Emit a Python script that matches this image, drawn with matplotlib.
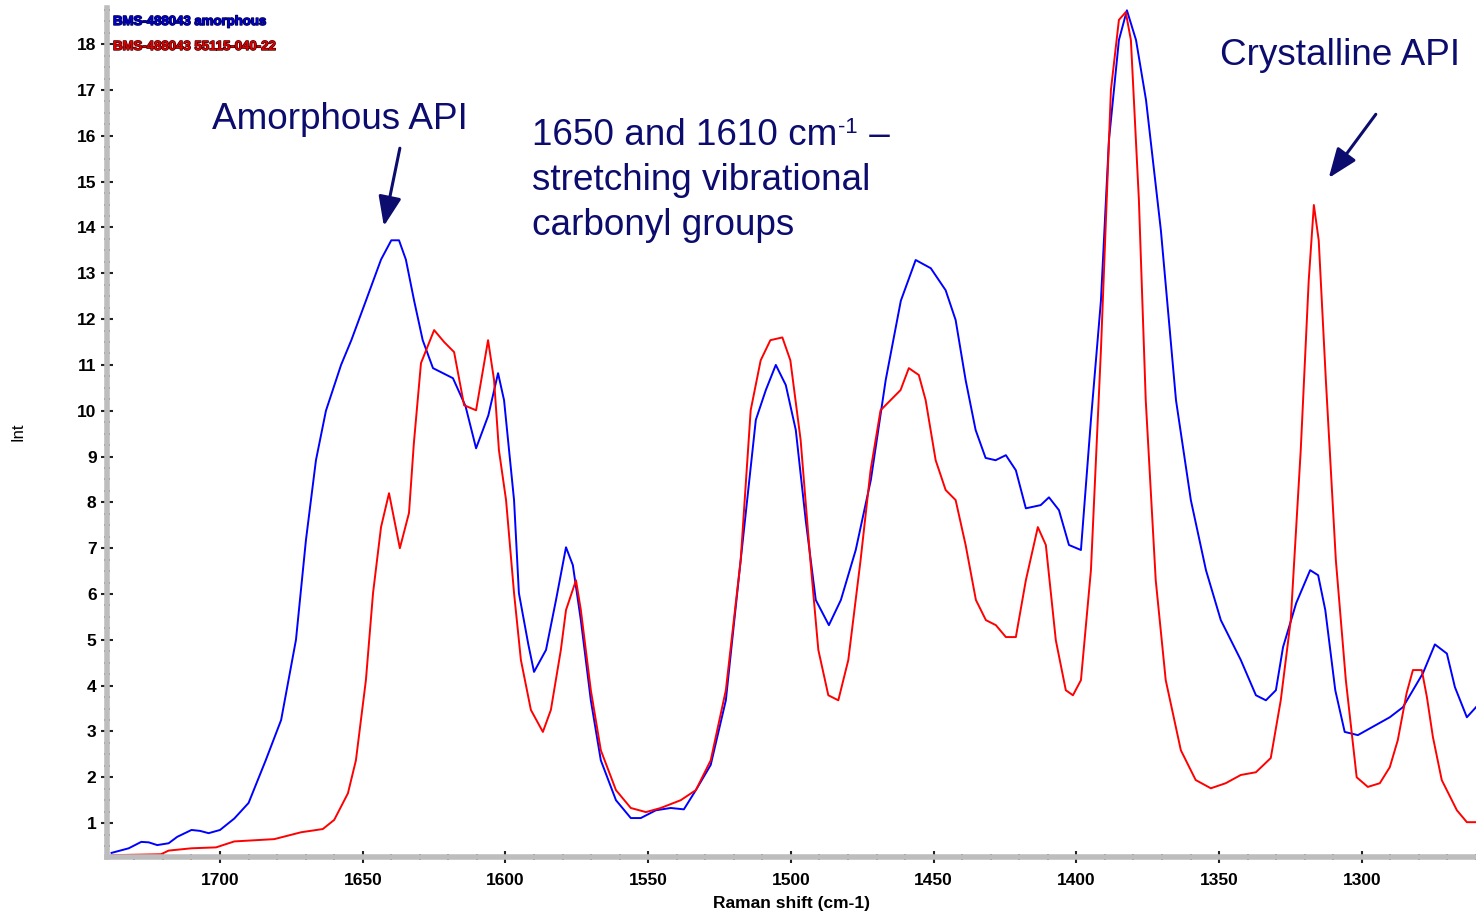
import matplotlib
matplotlib.use("Agg")
import matplotlib.pyplot as plt
import matplotlib.patheffects as pe
from matplotlib.ticker import MultipleLocator
from matplotlib.transforms import offset_copy

# spectrum data (Raman shift, intensity)
amorph_x = [1738, 1732, 1727.6, 1725, 1722, 1718, 1715, 1710, 1707, 1704, 1700, 1695, 1690,
            1684, 1678.6, 1673.4, 1669.9, 1666.4, 1662.9, 1657.6, 1654, 1648.9, 1643.6, 1640,
            1637.3, 1634.9, 1632, 1629, 1625.4, 1618.4, 1614, 1610.3, 1606, 1602.6, 1600.5,
            1597, 1595.3, 1592, 1590, 1585.8, 1582.3, 1578.8, 1576.4, 1573.6, 1570.1, 1566.6,
            1561.3, 1556.1, 1552.6, 1547.3, 1542.1, 1537.5, 1533.3, 1528.1, 1522.8, 1517.6,
            1512.3, 1508.8, 1505.3, 1501.8, 1498.3, 1494.8, 1491.3, 1486.7, 1482.5, 1477.3,
            1472, 1466.8, 1461.5, 1456.3, 1451, 1445.8, 1442.3, 1438.8, 1435.3, 1431.8, 1428.3,
            1424.7, 1421.2, 1417.7, 1412.5, 1409.6, 1406.1, 1402.6, 1398.4, 1394.9, 1391.4,
            1388.6, 1385.1, 1382.3, 1379.1, 1375.6, 1370.4, 1365.1, 1359.9, 1354.6, 1349.4,
            1342.4, 1337.1, 1333.6, 1330.1, 1327.6, 1323, 1318.1, 1315.3, 1312.8, 1309.3, 1306,
            1301.4, 1290.2, 1285.6, 1278.6, 1274.4, 1270.2, 1267.4, 1263.2, 1260]
amorph_y = [0.35, 0.45, 0.59, 0.58, 0.52, 0.56, 0.7, 0.85, 0.83, 0.78, 0.85, 1.1, 1.44,
            2.37, 3.25, 5.0, 7.18, 8.92, 10.0, 11.0, 11.54, 12.4, 13.3, 13.72,
            13.72, 13.3, 12.4, 11.54, 10.93, 10.71, 10.1, 9.18, 9.9, 10.82, 10.23,
            8.05, 6.02, 4.9, 4.3, 4.78, 5.87, 7.02, 6.63, 5.43, 3.68, 2.37,
            1.5, 1.11, 1.11, 1.28, 1.33, 1.3, 1.72, 2.27, 3.68, 6.74,
            9.8, 10.45, 11.0, 10.56, 9.58, 7.6, 5.87, 5.32, 5.87, 6.96,
            8.49, 10.67, 12.4, 13.29, 13.11, 12.63, 11.98, 10.67, 9.58, 8.97, 8.92,
            9.03, 8.7, 7.87, 7.94, 8.11, 7.83, 7.07, 6.96, 9.8, 12.4,
            15.9, 18.09, 18.74, 18.09, 16.78, 13.94, 10.23, 8.05, 6.52, 5.43,
            4.56, 3.79, 3.68, 3.9, 4.84, 5.8, 6.52, 6.41, 5.65, 3.9, 2.99,
            2.92, 3.31, 3.53, 4.27, 4.9, 4.7, 3.97, 3.31, 3.53]

cryst_x = [1738, 1720.7, 1718, 1710, 1701.4, 1695, 1681, 1671.6, 1664, 1660, 1655.2, 1652.4,
           1648.9, 1646.4, 1643.6, 1640.8, 1637, 1633.8, 1632.1, 1629.6, 1625, 1621.5, 1618,
           1614.5, 1610.3, 1606.1, 1604, 1602.3, 1599.8, 1597, 1594.6, 1591.1, 1586.9, 1584.1,
           1580.6, 1578.8, 1575.3, 1573.6, 1570.1, 1566.6, 1561.3, 1556.1, 1550.8, 1545.6,
           1538.6, 1533.3, 1528.1, 1522.8, 1517.6, 1514.1, 1510.6, 1507.2, 1503, 1500.2,
           1496.6, 1493.2, 1490.4, 1486.9, 1483.4, 1479.9, 1475.6, 1472.1, 1468.6, 1465.1,
           1461.6, 1458.7, 1455.2, 1452.8, 1449.3, 1445.8, 1442.3, 1438.8, 1435.2, 1431.7,
           1428.2, 1424.7, 1421.2, 1417.7, 1413.5, 1410.7, 1407.2, 1403.7, 1401.2, 1398.4,
           1394.9, 1391.4, 1387.9, 1385.1, 1382.7, 1380.9, 1378.1, 1375.7, 1372.2, 1368.7,
           1363.4, 1358.2, 1352.9, 1347.7, 1342.4, 1337.1, 1331.9, 1328.4, 1324.9, 1321.4,
           1318.6, 1316.8, 1315.1, 1312.6, 1309.1, 1305.6, 1301.8, 1297.9, 1293.7, 1290.2,
           1287.4, 1284.3, 1282.1, 1279, 1277.2, 1275.1, 1272, 1266.7, 1263.2, 1260]
cryst_y = [0.3, 0.32, 0.4, 0.45, 0.47, 0.6, 0.65, 0.8, 0.87, 1.07, 1.65, 2.37,
           4.12, 6.02, 7.46, 8.2, 7.0, 7.77, 9.29, 11.04, 11.76, 11.5, 11.28,
           10.12, 10.01, 11.54, 10.67, 9.14, 8.05, 6.02, 4.56, 3.47, 2.99, 3.47,
           4.78, 5.65, 6.3, 5.65, 3.9, 2.59, 1.72, 1.33, 1.24, 1.33,
           1.5, 1.72, 2.37, 3.9, 6.74, 10.01, 11.1, 11.54, 11.6, 11.1,
           9.36, 6.74, 4.78, 3.79, 3.68, 4.56, 6.74, 8.7, 10.01, 10.23,
           10.45, 10.93, 10.78, 10.23, 8.92, 8.27, 8.05, 7.07, 5.87, 5.43,
           5.32, 5.06, 5.06, 6.3, 7.46, 7.07, 4.99, 3.9, 3.79, 4.12,
           6.52, 11.32, 17.0, 18.53, 18.7, 18.09, 14.6, 10.23, 6.3, 4.12,
           2.59, 1.94, 1.76, 1.87, 2.05, 2.11, 2.42, 3.68, 5.43, 9.14,
           12.85, 14.49, 13.72, 10.67, 6.74, 4.12, 2.0, 1.79, 1.87, 2.22,
           2.81, 3.84, 4.34, 4.34, 3.75, 2.88, 1.94, 1.28, 1.02, 1.02]

series_names = ["BMS-488043 amorphous", "BMS-488043 55115-040-22"]

NAVY = "#0c0c6e"
W, H = 1476, 921

plt.rcParams["font.family"] = ["Liberation Sans", "DejaVu Sans"]


def px(x, y):
    # pixel position in the reference -> figure fraction
    return x / W, 1 - y / H


fig = plt.figure(figsize=(W / 100, H / 100), dpi=100)
ax = fig.add_axes([107 / W, 64 / H, (W - 107) / W, (857 - 8) / H])

ax.plot(amorph_x, amorph_y, color="#0000ff", lw=1.4)
ax.plot(cryst_x, cryst_y, color="#ff0000", lw=1.4)

ax.set_xlim(1739.6, 1260)
ax.set_ylim(0.26, 18.79)

# gray axis bars like the instrument software
for side in ["top", "right"]:
    ax.spines[side].set_visible(False)
for side in ["left", "bottom"]:
    ax.spines[side].set_color("#bdbdbd")
    ax.spines[side].set_linewidth(4)

ax.xaxis.set_major_locator(MultipleLocator(50))
ax.xaxis.set_minor_locator(MultipleLocator(10))
ax.yaxis.set_major_locator(MultipleLocator(1))
ax.yaxis.set_minor_locator(MultipleLocator(0.25))
ax.set_yticks(range(1, 19))
ax.tick_params(which="major", direction="inout", length=9, width=1.5, color="#222222",
               labelsize=12.5)
ax.tick_params(which="minor", direction="inout", length=4, width=1.2, color="#444444")
ax.tick_params(axis="x", which="major", pad=7)
ax.tick_params(axis="y", which="major", pad=3)
for lab in ax.get_xticklabels() + ax.get_yticklabels():
    lab.set_fontweight("bold")

ax.set_xlabel("Raman shift (cm-1)", fontsize=12.5, fontweight="bold", labelpad=6)
fig.text(*px(18, 432), "Int", rotation=90, fontsize=12, ha="center", va="center")

# legend-like labels at top left
for name, col, edge, y in [(series_names[0], "#0000cc", "#000044", 22),
                           (series_names[1], "#dd0000", "#440000", 47)]:
    t = fig.text(*px(113, y), name, fontsize=9.5, fontweight="bold", color=col,
                 ha="left", va="center",
                 family=["Liberation Sans Narrow", "Liberation Sans", "DejaVu Sans"])
    t.set_path_effects([pe.withStroke(linewidth=1, foreground=edge)])

# annotations
fs = 26.6
fig.text(*px(212, 129), "Amorphous API", fontsize=fs, color=NAVY, ha="left", va="baseline")
fig.text(*px(1220, 65), "Crystalline API", fontsize=fs, color=NAVY, ha="left", va="baseline")

# first line built in pieces so the superscript keeps a plain hyphen
renderer = fig.canvas.get_renderer()
t1 = fig.text(*px(532, 145), "1650 and 1610 cm", fontsize=fs, color=NAVY,
              ha="left", va="baseline")
w1 = t1.get_window_extent(renderer).width
sup = fig.text(*px(532, 145), "-1", fontsize=fs * 0.6, color=NAVY, ha="left", va="baseline",
               transform=offset_copy(fig.transFigure, fig=fig, x=w1 + 1, y=12, units="dots"))
w2 = sup.get_window_extent(renderer).width
fig.text(*px(532, 145), " –", fontsize=fs, color=NAVY, ha="left", va="baseline",
         transform=offset_copy(fig.transFigure, fig=fig, x=w1 + w2 + 2, y=0, units="dots"))

fig.text(*px(532, 190), "stretching vibrational", fontsize=fs, color=NAVY,
         ha="left", va="baseline")
fig.text(*px(532, 235), "carbonyl groups", fontsize=fs, color=NAVY, ha="left", va="baseline")

arrow = dict(arrowstyle="-|>,head_length=0.9,head_width=0.35", color=NAVY, lw=2.2,
             shrinkA=0, shrinkB=0, mutation_scale=20)
ax.annotate("", xy=(1642.6, 14.03), xytext=(1637, 15.73), arrowprops=arrow)
ax.annotate("", xy=(1311.6, 15.08), xytext=(1295.1, 16.47), arrowprops=arrow)

fig.savefig("out.png", dpi=100)
